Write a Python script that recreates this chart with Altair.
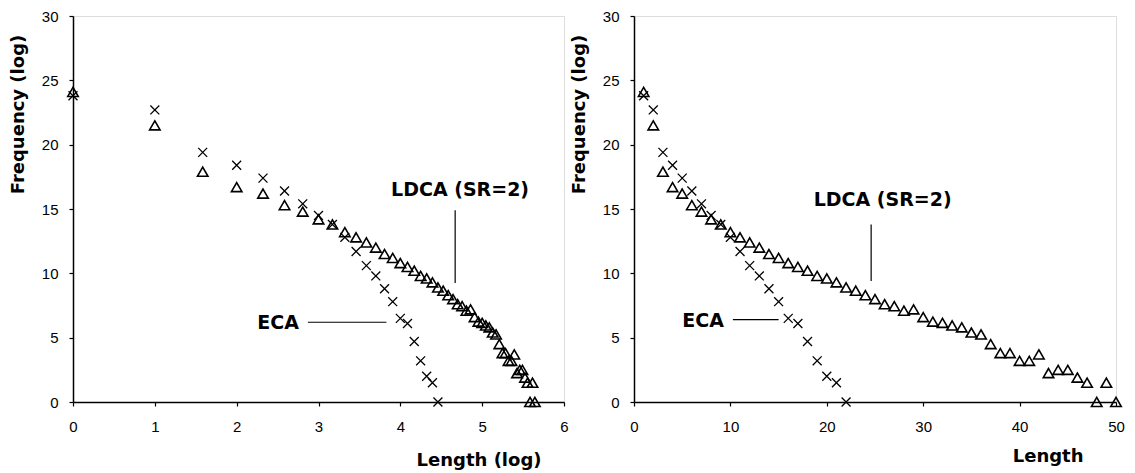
import altair as alt
import pandas as pd

# ---- data ----
ldca_len = [1, 2, 3, 4, 5, 6, 7, 8, 9, 10, 11, 12, 13, 14, 15, 16, 17, 18, 19, 20,
            21, 22, 23, 24, 25, 26, 27, 28, 29, 30, 31, 32, 33, 34, 35, 36, 37, 38, 39, 40,
            41, 42, 43, 44, 45, 46, 47, 48, 49, 50]
ldca_freq = [24.1, 21.5, 17.9, 16.7, 16.2, 15.3, 14.8, 14.2, 13.8, 13.2,
             12.8, 12.4, 12.0, 11.5, 11.2, 10.8, 10.5, 10.2, 9.8, 9.6,
             9.3, 8.9, 8.65, 8.3, 8.0, 7.6, 7.45, 7.1, 7.2, 6.6,
             6.25, 6.15, 5.95, 5.8, 5.4, 5.25, 4.5, 3.8, 3.8, 3.2,
             3.2, 3.7, 2.25, 2.5, 2.5, 1.9, 1.5, 0.0, 1.5, 0.0]
eca_len = [1, 2, 3, 4, 5, 6, 7, 8, 9, 10, 11, 12, 13, 14, 15, 16, 17, 18, 19, 20, 21, 22]
eca_freq = [23.8, 22.7, 19.4, 18.4, 17.4, 16.4, 15.4, 14.5, 13.8, 12.8, 11.7,
            10.6, 9.8, 8.8, 7.8, 6.5, 6.1, 4.7, 3.2, 2.0, 1.5, 0.0]

y_ticks = [0, 5, 10, 15, 20, 25, 30]
x_ticks_log = [0, 1, 2, 3, 4, 5, 6]
x_ticks_lin = [0, 10, 20, 30, 40, 50]

# annotation anchors (data units)
left_labels = pd.DataFrame({"x": [4.73, 2.76], "y": [16.5, 6.14],
                            "t": ["LDCA (SR=2)", "ECA"]})
left_lines = pd.DataFrame({"x": [4.67, 2.87], "x2": [4.67, 3.83],
                           "y": [14.9, 6.2], "y2": [9.25, 6.2]})
right_labels = pd.DataFrame({"x": [25.8, 9.33], "y": [15.7, 6.3],
                             "t": ["LDCA (SR=2)", "ECA"]})
right_lines = pd.DataFrame({"x": [24.6, 10.26], "x2": [24.6, 15.0],
                            "y": [13.8, 6.4], "y2": [9.4, 6.4]})

ldca = pd.DataFrame({"length": ldca_len, "freq": ldca_freq})
eca = pd.DataFrame({"length": eca_len, "freq": eca_freq})

FONT = "Liberation Sans"
TFONT = "DejaVu Sans"
X_PATH = "M-1,-1L1,1M-1,1L1,-1"


def panel(log_x, width, height, xdomain, xticks, xtitle, xtitle_x, xtitle_y, labels, lines):
    xaxis = alt.Axis(values=xticks, format="d", grid=False, domainColor="black",
                     domainWidth=1.5, tickColor="black", tickSize=4, tickWidth=1.2,
                     labelFont=FONT, labelFontSize=15, labelColor="black", labelPadding=13,
                     labelFlush=False,
                     title=xtitle, titleFont=TFONT, titleFontSize=18, titleFontWeight="bold",
                     titleColor="black", titleX=xtitle_x, titleY=xtitle_y,
                     titleAlign="right", titleBaseline="middle")
    yaxis = alt.Axis(values=y_ticks, format="d", grid=False, domainColor="black",
                     domainWidth=1.5, tickColor="black", tickSize=4, tickWidth=1.2,
                     labelFont=FONT, labelFontSize=15, labelColor="black", labelPadding=11,
                     labelFlush=False,
                     title="Frequency (log)", titleFont=TFONT, titleFontSize=18,
                     titleFontWeight="bold", titleColor="black", titleAngle=270,
                     titleX=-55, titleY=98, titleAlign="center", titleBaseline="middle")
    xs = alt.Scale(domain=xdomain, nice=False, zero=False)
    ys = alt.Scale(domain=[0, 30], nice=False, zero=False)

    def pts(df, **mk):
        base = alt.Chart(df)
        if log_x:
            base = base.transform_calculate(xv="log(datum.length)/LN2")
        else:
            base = base.transform_calculate(xv="datum.length")
        return base.mark_point(**mk).encode(
            x=alt.X("xv:Q", scale=xs, axis=xaxis),
            y=alt.Y("freq:Q", scale=ys, axis=yaxis),
        )

    crosses = pts(eca, shape=X_PATH, filled=False, stroke="black", strokeWidth=1.3,
                  size=80, opacity=1)
    tris = pts(ldca, shape="triangle-up", filled=False, stroke="black", strokeWidth=1.6,
               size=110, opacity=1)
    txt_c = alt.Chart(labels.iloc[[0]]).mark_text(
        font=TFONT, fontSize=19, fontWeight="bold", color="black", align="center",
        baseline="middle").encode(x=alt.X("x:Q", scale=xs), y=alt.Y("y:Q", scale=ys), text="t:N")
    txt_r = alt.Chart(labels.iloc[[1]]).mark_text(
        font=TFONT, fontSize=19, fontWeight="bold", color="black", align="right",
        baseline="middle").encode(x=alt.X("x:Q", scale=xs), y=alt.Y("y:Q", scale=ys), text="t:N")
    rules = alt.Chart(lines).mark_rule(color="black", strokeWidth=1.2).encode(
        x=alt.X("x:Q", scale=xs), x2="x2:Q", y=alt.Y("y:Q", scale=ys), y2="y2:Q")
    return alt.layer(crosses, tris, rules, txt_c, txt_r).properties(width=width, height=height)


left = panel(True, 491, 386, [0, 6], x_ticks_log, "Length (log)", 468, 58,
             left_labels, left_lines)
right = panel(False, 482, 386, [0, 50], x_ticks_lin, "Length", 449, 54,
              right_labels, right_lines)

chart = alt.hconcat(left, right, spacing=70, bounds="flush").resolve_scale(
    x="independent", y="independent"
).properties(padding=0).configure_view(stroke=None).configure(background="white")

chart.save("out.html", embed_options={"renderer": "svg", "actions": False})
